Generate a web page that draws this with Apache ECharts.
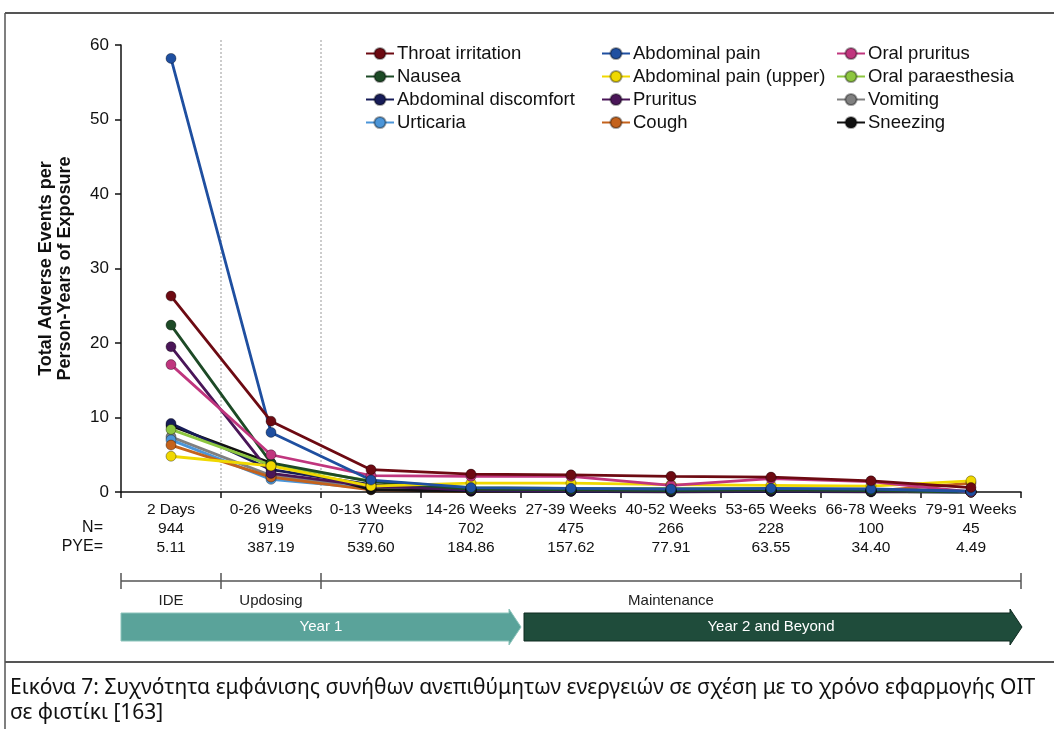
<!DOCTYPE html>
<html>
<head>
<meta charset="utf-8">
<script src="https://cdn.jsdelivr.net/npm/echarts@6/dist/echarts.min.js"></script>
<style>
  html, body { margin: 0; padding: 0; background: #ffffff; }
  #chart { width: 1054px; height: 729px; }
</style>
</head>
<body>
<div id="chart"></div>
<script>
// Time periods on the x axis
const categories = ['2 Days', '0-26 Weeks', '0-13 Weeks', '14-26 Weeks', '27-39 Weeks',
  '40-52 Weeks', '53-65 Weeks', '66-78 Weeks', '79-91 Weeks'];
// Participants and person-years of exposure per period
const nValues = ['944', '919', '770', '702', '475', '266', '228', '100', '45'];
const pyeValues = ['5.11', '387.19', '539.60', '184.86', '157.62', '77.91', '63.55', '34.40', '4.49'];
const yTicks = [0, 10, 20, 30, 40, 50, 60];

// Adverse events per person-year, one array per event type
const throatIrritation   = [26.3, 9.5, 3.0, 2.4, 2.3, 2.1, 2.0, 1.5, 0.6];
const abdominalPain      = [58.2, 8.0, 1.6, 0.6, 0.5, 0.4, 0.5, 0.4, 0.1];
const oralPruritus       = [17.1, 5.0, 2.2, 2.1, 2.1, 0.9, 1.8, 1.4, 0.0];
const nausea             = [22.4, 3.9, 1.4, 0.4, 0.3, 0.2, 0.3, 0.2, 0.0];
const abdominalPainUpper = [4.8, 3.5, 0.8, 1.2, 1.2, 1.0, 0.9, 0.8, 1.5];
const oralParaesthesia   = [8.4, 3.6, 1.5, 0.6, 0.5, 0.5, 0.4, 0.3, 0.0];
const abdominalDiscomfort= [9.2, 3.0, 1.0, 0.2, 0.1, 0.1, 0.1, 0.1, 0.0];
const pruritus           = [19.5, 2.5, 0.8, 0.3, 0.2, 0.1, 0.2, 0.1, 0.0];
const vomiting           = [7.4, 2.2, 0.6, 0.2, 0.1, 0.1, 0.1, 0.1, 0.0];
const urticaria          = [7.0, 1.7, 0.5, 0.3, 0.2, 0.2, 0.2, 0.1, 0.0];
const cough              = [6.3, 2.0, 0.3, 0.1, 0.1, 0.1, 0.1, 0.1, 1.2];
const sneezing           = [8.9, 3.9, 0.3, 0.1, 0.1, 0.0, 0.1, 0.0, 0.0];

// Study phases below the axis (span in periods)
const phases = [
  { name: 'IDE', from: 0, to: 1 },
  { name: 'Updosing', from: 1, to: 2 },
  { name: 'Maintenance', from: 2, to: 9 }
];

const seriesDefs = [
  { name: 'Vomiting', data: vomiting, color: '#808080' },
  { name: 'Urticaria', data: urticaria, color: '#4b95d8' },
  { name: 'Cough', data: cough, color: '#c4621c' },
  { name: 'Sneezing', data: sneezing, color: '#111111' },
  { name: 'Abdominal discomfort', data: abdominalDiscomfort, color: '#171c58' },
  { name: 'Pruritus', data: pruritus, color: '#4a1658' },
  { name: 'Oral paraesthesia', data: oralParaesthesia, color: '#8dc63f' },
  { name: 'Nausea', data: nausea, color: '#1d4a26' },
  { name: 'Abdominal pain (upper)', data: abdominalPainUpper, color: '#f0d800' },
  { name: 'Oral pruritus', data: oralPruritus, color: '#c0367e' },
  { name: 'Abdominal pain', data: abdominalPain, color: '#1f4fa0' },
  { name: 'Throat irritation', data: throatIrritation, color: '#6d0a12' }
];

const legendCols = [
  ['Throat irritation', 'Nausea', 'Abdominal discomfort', 'Urticaria'],
  ['Abdominal pain', 'Abdominal pain (upper)', 'Pruritus', 'Cough'],
  ['Oral pruritus', 'Oral paraesthesia', 'Vomiting', 'Sneezing']
];

const FONT = '"Liberation Sans", Arial, sans-serif';
const GRID = { left: 121, right: 33, top: 45, bottom: 237 };
const plotW = 1054 - GRID.left - GRID.right;
const band = plotW / categories.length;
const bx = i => GRID.left + band * i;
const axisY = 729 - GRID.bottom;

const chart = echarts.init(document.getElementById('chart'), null, { renderer: 'canvas' });

const legends = legendCols.map((names, c) => ({
  orient: 'vertical',
  left: [365, 601, 836][c],
  top: 44,
  padding: 0,
  itemWidth: 28,
  itemHeight: 14,
  itemGap: 4,
  data: names,
  textStyle: { fontFamily: FONT, fontSize: 18.5, lineHeight: 19, color: '#111', padding: [0, 0, 0, -2] },
  selectedMode: false
}));

const series = seriesDefs.map(s => ({
  name: s.name,
  type: 'line',
  data: s.data,
  symbol: 'circle',
  symbolSize: 10,
  color: s.color,
  lineStyle: { width: 2.8, color: s.color },
  itemStyle: { color: s.color, borderColor: 'rgba(0,0,0,0.35)', borderWidth: 1 },
  emphasis: { disabled: true },
  animation: false
}));

// Phase dividers, timeline, arrows, frame and caption
const graphics = [];
// dotted phase dividers inside the plot
[1, 2].forEach(i => {
  graphics.push({ type: 'line', z: 0, shape: { x1: bx(i), y1: 40, x2: bx(i), y2: axisY }, style: { stroke: '#999', lineWidth: 1, lineDash: [2, 2] } });
});
// outer frame
graphics.push({ type: 'line', shape: { x1: 5, y1: 13, x2: 1054, y2: 13 }, style: { stroke: '#555', lineWidth: 2 } });
graphics.push({ type: 'line', shape: { x1: 5, y1: 13, x2: 5, y2: 729 }, style: { stroke: '#555', lineWidth: 1.5 } });
graphics.push({ type: 'line', shape: { x1: 5, y1: 662, x2: 1054, y2: 662 }, style: { stroke: '#555', lineWidth: 2 } });
// row headers
graphics.push({ type: 'text', style: { text: 'N=', x: 103, y: 528, align: 'right', verticalAlign: 'middle', font: '16px ' + FONT, fill: '#111' } });
graphics.push({ type: 'text', style: { text: 'PYE=', x: 103, y: 547, align: 'right', verticalAlign: 'middle', font: '16px ' + FONT, fill: '#111' } });
// timeline
const tlY = 581;
graphics.push({ type: 'line', shape: { x1: bx(0), y1: tlY, x2: bx(9), y2: tlY }, style: { stroke: '#555', lineWidth: 1.5 } });
[0, 1, 2, 9].forEach(i => {
  graphics.push({ type: 'line', shape: { x1: bx(i), y1: tlY - 8, x2: bx(i), y2: tlY + 8 }, style: { stroke: '#555', lineWidth: 1.5 } });
});
phases.forEach(p => {
  graphics.push({ type: 'text', style: { text: p.name, x: (bx(p.from) + bx(p.to)) / 2, y: 601, align: 'center', verticalAlign: 'middle', font: '15px ' + FONT, fill: '#222' } });
});
// year arrows
function arrow(x0, x1, color, stroke) {
  const top = 613, bot = 641, mid = 627, head = 12;
  return {
    type: 'polygon',
    shape: { points: [[x0, top], [x1 - head, top], [x1 - head, top - 4], [x1, mid], [x1 - head, bot + 4], [x1 - head, bot], [x0, bot]] },
    style: { fill: color, stroke: stroke, lineWidth: 1 }
  };
}
graphics.push(arrow(bx(0), bx(4), '#5aa39a', '#8cc4bb'));
graphics.push(arrow(bx(4) + 3, bx(9) + 1, '#1f4c3b', '#0e2a20'));
graphics.push({ type: 'text', style: { text: 'Year 1', x: (bx(0) + bx(4)) / 2, y: 627, align: 'center', verticalAlign: 'middle', font: '15px ' + FONT, fill: '#ffffff' } });
graphics.push({ type: 'text', style: { text: 'Year 2 and Beyond', x: (bx(4) + bx(9)) / 2, y: 627, align: 'center', verticalAlign: 'middle', font: '15px ' + FONT, fill: '#ffffff' } });
// caption
graphics.push({ type: 'text', style: {
  text: 'Εικόνα 7: Συχνότητα εμφάνισης συνήθων ανεπιθύμητων ενεργειών σε σχέση με το χρόνο εφαρμογής OIT\nσε φιστίκι [163]',
  x: 10, y: 676, font: '21px "Noto Sans", sans-serif', fill: '#111', lineHeight: 25 } });

const option = {
  backgroundColor: '#ffffff',
  animation: false,
  legend: legends,
  grid: GRID,
  xAxis: {
    type: 'category',
    data: categories,
    boundaryGap: true,
    axisLine: { lineStyle: { color: '#111', width: 1.5 } },
    axisTick: { show: true, length: 6, inside: false, lineStyle: { color: '#111', width: 1.5 } },
    axisLabel: {
      interval: 0,
      margin: 8,
      fontFamily: FONT,
      fontSize: 15.5,
      color: '#111',
      lineHeight: 19,
      formatter: (v, i) => v + '\n' + nValues[i] + '\n' + pyeValues[i]
    },
    splitLine: { show: false }
  },
  yAxis: {
    type: 'value',
    min: yTicks[0],
    max: yTicks[yTicks.length - 1],
    interval: yTicks[1] - yTicks[0],
    name: 'Total Adverse Events per\nPerson-Years of Exposure',
    nameLocation: 'middle',
    nameGap: 46,
    nameTextStyle: { fontFamily: FONT, fontSize: 18, fontWeight: 'bold', color: '#111', lineHeight: 19 },
    axisLine: { show: true, lineStyle: { color: '#111', width: 1.5 } },
    axisTick: { show: true, length: 6, lineStyle: { color: '#111', width: 1.5 } },
    axisLabel: { fontFamily: FONT, fontSize: 17, color: '#111', margin: 12 },
    splitLine: { show: false }
  },
  series: series,
  graphic: graphics
};

chart.setOption(option);
</script>
</body>
</html>
